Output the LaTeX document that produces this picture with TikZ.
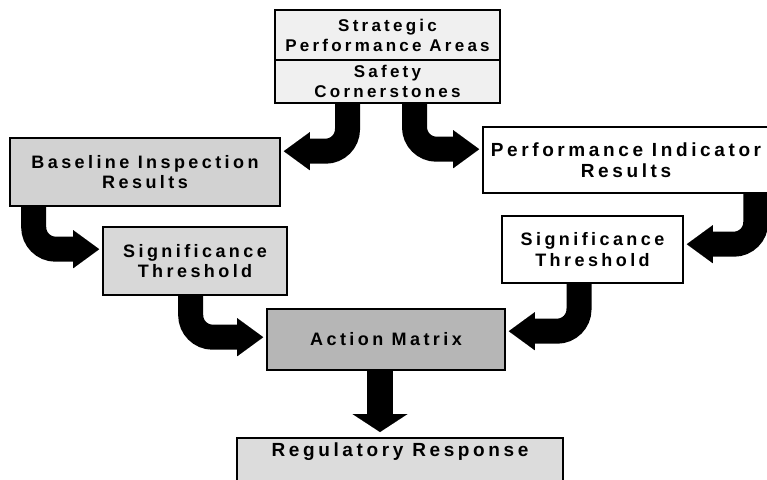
\documentclass[tikz,border=0pt]{standalone}
\usepackage{fontspec}
\setmainfont{Liberation Sans}[LetterSpace=19]
\usetikzlibrary{arrows.meta}
\definecolor{fillA}{HTML}{F0F0F0}
\definecolor{fillB}{HTML}{D2D2D2}
\definecolor{fillC}{HTML}{D8D8D8}
\definecolor{fillD}{HTML}{B6B6B6}
\definecolor{fillE}{HTML}{DCDCDC}
\tikzset{
  box/.style={draw=black, line width=1.6pt, inner sep=0pt, align=center,
    font=\fontsize{18}{20.5}\selectfont\bfseries},
  small/.style={font=\fontsize{17}{20}\selectfont\bfseries},
  large/.style={font=\fontsize{19}{21}\selectfont\bfseries},
  fat/.style={line width=25pt, rounded corners=22pt, shorten >=3pt,
    -{Triangle[width=38pt,length=26pt,line width=0.01pt]}},
  down/.style={line width=26pt, shorten >=5pt,
    -{Triangle[width=55pt,length=18pt,line width=0.01pt]}}
}
\begin{document}
\begin{tikzpicture}[x=1pt,y=-1pt]
\useasboundingbox (0,0) rectangle (767,479);
\node[box, small, fill=fillA, minimum width=225pt, minimum height=50pt] (top1) at (387.5,35) {Strategic\\Performance Areas};
\node[box, small, fill=fillA, minimum width=225pt, minimum height=43pt] (top2) at (387.5,81.5) {Safety\\Cornerstones};
\node[box, fill=fillB, minimum width=270pt, minimum height=68pt] (base) at (145,172) {Baseline Inspection\\Results};
\node[box, large, fill=white, minimum width=286pt, minimum height=66pt] (pi) at (626,160) {Performance Indicator\\Results};
\node[box, fill=fillC, minimum width=184pt, minimum height=68pt] (stL) at (195,261) {Significance\\Threshold};
\node[box, fill=white, minimum width=181pt, minimum height=67pt] (stR) at (592.5,249.5) {Significance\\Threshold};
\node[box, fill=fillD, minimum width=238pt, minimum height=61pt] (am) at (386,339.5) {Action Matrix};
\node[box, large, fill=fillE, minimum width=326pt, inner ysep=4pt, text height=15pt, text depth=30pt, anchor=north] (rr) at (400,437) {Regulatory Response};
\draw[fat] ([xshift=-40pt]top2.south) |- ([yshift=-14pt]base.north east);
\draw[fat] ([xshift=27pt]top2.south) |- ([yshift=-23pt]pi.north west);
\draw[fat] ([xshift=24.5pt]base.south west) |- ([yshift=-23pt]stL.north west);
\draw[fat] ([xshift=88.5pt]stL.south west) |- ([yshift=-29pt]am.north west);
\draw[fat] ([xshift=-14pt]pi.south east) |- ([yshift=-29pt]stR.north east);
\draw[fat] ([xshift=-13.5pt]stR.south) |- ([yshift=-23pt]am.north east);
\draw[down] ([xshift=-6pt]am.south) -- ([xshift=-20pt]rr.north);
\end{tikzpicture}
\end{document}
